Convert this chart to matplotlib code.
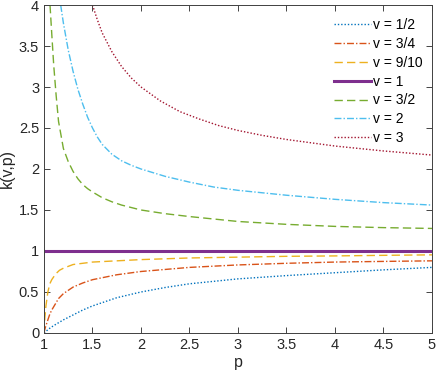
import numpy as np
import matplotlib
matplotlib.use("Agg")
import matplotlib.pyplot as plt

plt.rcParams['font.family'] = ['Liberation Sans', 'DejaVu Sans']

# values, one (p, k) list pair per curve
p_half = [1.0, 1.05, 1.1, 1.2, 1.3, 1.4, 1.5, 1.75, 2.0, 2.25, 2.5, 3.0, 3.5, 4.0, 4.5, 5.0]
k_half = [0.0, 0.05, 0.09, 0.16, 0.22, 0.28, 0.33, 0.43, 0.50, 0.555, 0.60, 0.66, 0.70, 0.735, 0.77, 0.80]

p_34 = [1.0, 1.01, 1.02, 1.04, 1.06, 1.08, 1.1, 1.15, 1.2, 1.3, 1.4, 1.5, 1.75, 2.0, 2.5, 3.0, 3.5, 4.0, 4.5, 5.0]
k_34 = [0.0, 0.05, 0.09, 0.16, 0.23, 0.28, 0.32, 0.42, 0.48, 0.56, 0.61, 0.65, 0.71, 0.75, 0.80, 0.83, 0.85, 0.865, 0.873, 0.88]

p_910 = [1.0, 1.01, 1.02, 1.04, 1.06, 1.08, 1.12, 1.16, 1.2, 1.3, 1.4, 1.5, 1.75, 2.0, 2.5, 3.0, 3.5, 4.0, 4.5, 5.0]
k_910 = [0.0, 0.2, 0.33, 0.5, 0.6, 0.65, 0.72, 0.765, 0.79, 0.835, 0.85, 0.865, 0.88, 0.895, 0.915, 0.925, 0.935, 0.94, 0.947, 0.953]

p_one = [1.0, 5.0]
k_one = [1.0, 1.0]

p_32 = [1.062, 1.08, 1.1, 1.125, 1.15, 1.2, 1.25, 1.3, 1.35, 1.4, 1.45, 1.5, 1.6, 1.7, 1.8, 2.0, 2.25, 2.5, 3.0, 3.5, 4.0, 4.5, 5.0]
k_32 = [4.0, 3.65, 3.27, 2.9, 2.58, 2.25, 2.09, 1.97, 1.88, 1.81, 1.76, 1.72, 1.65, 1.60, 1.56, 1.50, 1.455, 1.42, 1.36, 1.325, 1.30, 1.285, 1.275]

p_two = [1.172, 1.2, 1.25, 1.3, 1.35, 1.4, 1.45, 1.5, 1.55, 1.6, 1.7, 1.8, 1.9, 2.0, 2.25, 2.5, 2.75, 3.0, 3.5, 4.0, 4.5, 5.0]
k_two = [4.0, 3.78, 3.45, 3.19, 2.97, 2.79, 2.63, 2.50, 2.39, 2.30, 2.18, 2.10, 2.045, 2.0, 1.91, 1.84, 1.78, 1.74, 1.68, 1.63, 1.59, 1.56]

p_three = [1.5, 1.55, 1.6, 1.7, 1.8, 1.9, 2.0, 2.2, 2.4, 2.6, 2.8, 3.0, 3.25, 3.5, 3.75, 4.0, 4.5, 5.0]
k_three = [4.0, 3.82, 3.66, 3.43, 3.25, 3.11, 3.0, 2.83, 2.70, 2.61, 2.53, 2.47, 2.41, 2.36, 2.32, 2.28, 2.22, 2.17]

labels = ["v = 1/2", "v = 3/4", "v = 9/10", "v = 1", "v = 3/2", "v = 2", "v = 3"]

dot = (1, 1.4)
dash = (6, 3)
dashdot = (5, 1.5, 1, 1.5)

fig = plt.figure(figsize=(4.36, 3.82), dpi=100)
ax = fig.add_axes([0.1009, 0.1283, 0.8899, 0.8586])

ax.plot(p_half, k_half, color='#0072BD', lw=1, dashes=dot, label=labels[0])
ax.plot(p_34, k_34, color='#D95319', lw=1, dashes=dashdot, label=labels[1])
ax.plot(p_910, k_910, color='#EDB120', lw=1, dashes=dash, label=labels[2])
ax.plot(p_one, k_one, color='#7E2F8E', lw=2.2, label=labels[3])
ax.plot(p_32, k_32, color='#77AC30', lw=1, dashes=dash, label=labels[4])
ax.plot(p_two, k_two, color='#4DBEEE', lw=1, dashes=dashdot, label=labels[5])
ax.plot(p_three, k_three, color='#A2142F', lw=1, dashes=dot, label=labels[6])

ax.set_xlim(1, 5)
ax.set_ylim(0, 4)
ax.set_xticks(np.arange(1, 5.01, 0.5))
ax.set_yticks(np.arange(0, 4.01, 0.5))
ax.set_xticklabels(['1', '1.5', '2', '2.5', '3', '3.5', '4', '4.5', '5'])
ax.set_yticklabels(['0', '0.5', '1', '1.5', '2', '2.5', '3', '3.5', '4'])
ax.tick_params(direction='in', top=True, right=True, length=4, width=0.6,
               colors='#262626', labelsize=10.5)
for s in ax.spines.values():
    s.set_color('#404040')
    s.set_linewidth(0.7)

ax.set_xlabel('p', fontsize=11.5, color='#262626', labelpad=2)
ax.set_ylabel('k(v,p)', fontsize=11.5, color='#262626', labelpad=3)

ax.legend(loc='upper right', bbox_to_anchor=(1.0, 0.988), frameon=False,
          fontsize=10, handlelength=2.6, handletextpad=0.2,
          labelspacing=0.35, borderaxespad=0.25)

fig.savefig('out.png', dpi=100)
